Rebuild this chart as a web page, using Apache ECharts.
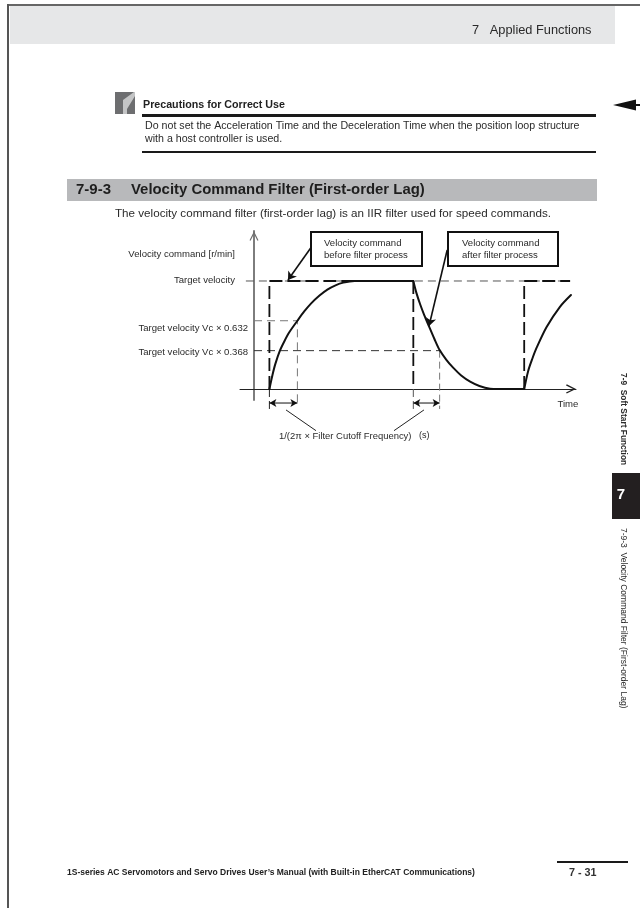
<!DOCTYPE html>
<html><head><meta charset="utf-8">
<style>html,body{margin:0;padding:0;background:#fff}#c{width:640px;height:908px}</style>
<script src="https://cdn.jsdelivr.net/npm/echarts@6/dist/echarts.min.js"></script>
</head><body><div id="c"></div>
<script>
// ---- Data (time in filter time constants, velocity as fraction of target)
const firstRiseT = [0.55,0.66,0.76,0.925,1.09,1.26,1.55,1.8,2.05,2.34,2.62,2.91,3.19,3.59,5.69];
const firstRiseV = [0,0.13,0.23,0.355,0.445,0.525,0.632,0.72,0.795,0.865,0.92,0.96,0.985,1,1];
const fallT = [5.69,5.8,5.94,6.08,6.25,6.44,6.63,6.87,7.12,7.4,7.72,8.05,8.43,8.73,9.65];
const fallV = [1,0.89,0.78,0.685,0.58,0.465,0.36,0.27,0.195,0.125,0.068,0.028,0.003,0,0];
const secondRiseT = [9.65,9.79,9.94,10.09,10.45,10.92,11.32];
const secondRiseV = [0,0.165,0.28,0.38,0.574,0.759,0.87];
const commandOnT = [0.55,0.55,5.69,5.69];
const commandOnV = [0,1,1,0];
const commandAgainT = [9.65,9.65,11.29];
const commandAgainV = [0,1,1];
const riseStart = 0.55, riseCross = 1.55, fallStart = 5.69, fallCross = 6.63;
const levelHigh = 0.632, levelLow = 0.355;
// ---- Text
const axisTitle = 'Velocity command [r/min]';
const tickLabels = ['Target velocity','Target velocity Vc × 0.632','Target velocity Vc × 0.368'];
const calloutBefore = ['Velocity command','before filter process'];
const calloutAfter = ['Velocity command','after filter process'];
const timeLabel = 'Time';
const formulaLabel = '1/(2π × Filter Cutoff Frequency)';
const unitLabel = '(s)';
const headerText = '7   Applied Functions';
const noteTitle = 'Precautions for Correct Use';
const noteLines = ['Do not set the Acceleration Time and the Deceleration Time when the position loop structure','with a host controller is used.'];
const sectionNo = '7-9-3';
const sectionTitle = 'Velocity Command Filter (First-order Lag)';
const intro = 'The velocity command filter (first-order lag) is an IIR filter used for speed commands.';
const footer = '1S-series AC Servomotors and Servo Drives User’s Manual (with Built-in EtherCAT Communications)';
const pageNo = '7 - 31';
const tabNo = '7';
const sideTop = '7-9  Soft Start Function';
const sideBottom = '7-9-3  Velocity Command Filter (First-order Lag)';

const zip = (a,b)=>a.map((x,i)=>[x,b[i]]);
const F = '"Liberation Sans", Arial, sans-serif';
const T = (text,x,y,size,extra={})=>({type:'text',x,y,silent:true,z:10,rotation:extra.rotation||0,
  style:{text,fontFamily:F,fontSize:size,fontWeight:extra.weight||'normal',fill:extra.fill||'#2a2a2a',
  align:extra.align||'left',verticalAlign:'middle'}});
const R = (x,y,width,height,fill,extra={})=>({type:'rect',silent:true,z:extra.z||1,shape:{x,y,width,height},
  style:{fill,stroke:extra.stroke||null,lineWidth:extra.lw||0}});

const guide = (data,color,dash,width)=>({type:'line',data,symbol:'none',clip:false,silent:true,z:2,
  lineStyle:{color,width:width||1,type:dash||'solid'}});
const dimension = (from,to)=>({type:'line',clip:false,silent:true,z:5,symbolSize:[6,7],
  lineStyle:{color:'#111',width:1},itemStyle:{color:'#111'},
  data:[{value:from,symbol:'arrow',symbolRotate:90},{value:to,symbol:'arrow',symbolRotate:-90}]});
const leaderLine = (from,to)=>[{coord:from,symbol:'none'},{coord:to,symbol:'arrow',symbolSize:8}];
const curve = (t,v,extra={})=>Object.assign({type:'line',data:zip(t,v),symbol:'none',silent:true,z:4,clip:false,
  smooth:0.3,lineStyle:{color:'#111',width:2,join:'round',cap:'round'}},extra);
const command = (t,v)=>({type:'line',data:zip(t,v),symbol:'none',silent:true,z:3,clip:false,
  lineStyle:{color:'#111',width:1.8,type:[13,5]}});
const openArrow = 'path://M0,10 L5,0 L10,10 L8.8,10.8 L5,3.2 L1.2,10.8 Z';

const option = {
  animation:false,
  grid:{left:240,width:336,top:231,height:169,containLabel:false},
  xAxis:{type:'value',min:-0.5,max:11.5,splitLine:{show:false},axisTick:{show:false},axisLabel:{show:false},
    axisLine:{onZero:true,lineStyle:{color:'#222',width:1},symbol:['none',openArrow],symbolSize:[10,10],symbolOffset:[0,-5]}},
  yAxis:{type:'value',min:-0.102,max:1.463,splitLine:{show:false},axisTick:{show:false},axisLabel:{show:false},
    axisLine:{onZero:true,lineStyle:{color:'#6f6f6f',width:1.8},symbol:['none',openArrow],symbolSize:[9,10],symbolOffset:[0,-5]}},
  series:[
    guide([[-0.29,1],[11.29,1]],'#555',[8,5]),
    guide([[0,levelHigh],[riseCross,levelHigh],[riseCross,-0.148]],'#777',[8,5]),
    guide([[0,levelLow],[fallCross,levelLow]],'#333',[8,5]),
    guide([[fallCross,levelLow],[fallCross,-0.185]],'#777',[7,4]),
    guide([[riseStart,0],[riseStart,-0.185]],'#222',[8,4]),
    guide([[fallStart,0],[fallStart,-0.185]],'#555',[8,4]),
    guide([[1.143,-0.194],[2.214,-0.386]],'#222'),
    guide([[6.07,-0.194],[5.0,-0.386]],'#222'),
    dimension([riseStart,-0.13],[riseCross,-0.13]),
    dimension([fallStart,-0.13],[fallCross,-0.13]),
    command(commandOnT,commandOnV),
    command(commandAgainT,commandAgainV),
    curve(firstRiseT,firstRiseV),
    curve(fallT,fallV,{markLine:{silent:true,animation:false,label:{show:false},symbol:['none','arrow'],
        lineStyle:{color:'#111',width:1.6,type:'solid'},
        data:[leaderLine([2.025,1.306],[1.214,1.009]),leaderLine([6.9,1.287],[6.25,0.583])]}}),
    curve(secondRiseT,secondRiseV)
  ],
  graphic:{elements:[
    // page furniture
    R(7,4,633,2,'#666',{z:0}),
    R(7,4,2,904,'#555',{z:0}),
    R(10,6,605,38,'#e6e7e8',{z:0}),
    T(headerText,472,30,12.8),
    R(115,92,20,22,'#6d6e70',{z:1}),
    {type:'polygon',silent:true,z:2,shape:{points:[[123,114],[123,100],[134,92],[135,92],[135,96],[127,109],[127,114]]},style:{fill:'#c4c5c6'}},
    T(noteTitle,143,105,10.7,{weight:'bold',fill:'#222'}),
    R(142,114,454,3,'#1a1a1a'),
    T(noteLines[0],145,126,10.65),
    T(noteLines[1],145,139,10.65),
    R(142,151,454,2,'#1a1a1a'),
    {type:'polygon',silent:true,z:2,shape:{points:[[613,105],[636,99.5],[636,110.5]]},style:{fill:'#111'}},
    R(636,104,4,2,'#111'),
    R(67,179,530,22,'#b8b9bb',{z:0}),
    T(sectionNo,76,190,15,{weight:'bold',fill:'#1e1e1e'}),
    T(sectionTitle,131,190,14.9,{weight:'bold',fill:'#1e1e1e'}),
    T(intro,115,214,11.65),
    // chart annotations
    R(311,232,111,34,'#fff',{stroke:'#111',lw:2,z:6}),
    R(448,232,110,34,'#fff',{stroke:'#111',lw:2,z:6}),
    T(calloutBefore[0],324,243,9.55),T(calloutBefore[1],324,255,9.55),
    T(calloutAfter[0],462,243,9.55),T(calloutAfter[1],462,255,9.55),
    T(axisTitle,235,254,9.55,{align:'right'}),
    T(tickLabels[0],235,280,9.55,{align:'right'}),
    T(tickLabels[1],248,328,9.55,{align:'right'}),
    T(tickLabels[2],248,352,9.55,{align:'right'}),
    T(timeLabel,557.5,404,9.55),
    T(formulaLabel,279,436,9.45),
    T(unitLabel,419,436,9),
    // side tab and footer
    R(612,473,28,46,'#231f20'),
    T(tabNo,621,495,15,{weight:'bold',fill:'#fff',align:'center'}),
    T(sideTop,623,373,8.4,{weight:'bold',rotation:-Math.PI/2}),
    T(sideBottom,623,528,8.5,{rotation:-Math.PI/2}),
    T(footer,67,873,8.5,{weight:'bold',fill:'#222'}),
    R(557,861,71,2,'#1a1a1a'),
    T(pageNo,569,873,10.8,{weight:'bold',fill:'#333'})
  ]}
};
echarts.init(document.getElementById('c'),null,{renderer:'canvas'}).setOption(option);
</script></body></html>
